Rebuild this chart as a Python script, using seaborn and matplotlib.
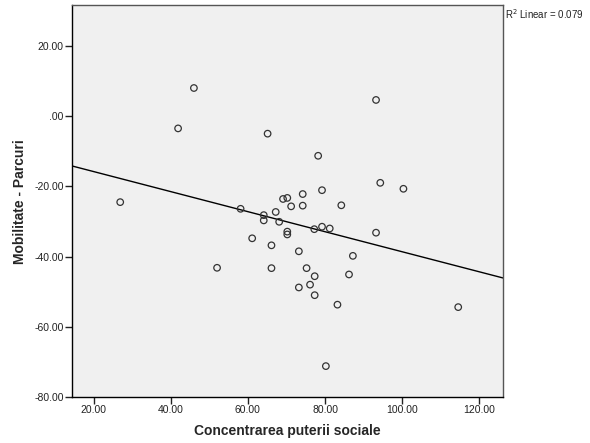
import matplotlib
matplotlib.use("Agg")
import matplotlib.pyplot as plt
import seaborn as sns
import pandas as pd
from matplotlib.ticker import FuncFormatter

concentrarea = [46.0, 41.9, 65.1, 93.2, 78.2, 26.9, 58.1, 69.1, 70.2, 74.2,
                71.2, 74.2, 67.2, 64.1, 64.1, 68.1, 70.2, 70.2, 61.1, 66.1,
                73.2, 52.0, 66.1, 75.2, 73.2, 94.3, 100.3, 79.2, 84.2, 77.2,
                79.2, 81.2, 93.2, 87.2, 77.3, 86.2, 76.1, 77.3, 83.2, 114.5,
                80.2]
mobilitate = [8.0, -3.5, -5.0, 4.6, -11.3, -24.5, -26.4, -23.6, -23.3, -22.2,
              -25.7, -25.5, -27.3, -28.2, -29.7, -30.1, -32.9, -33.7, -34.8, -36.8,
              -38.5, -43.2, -43.3, -43.3, -48.8, -19.0, -20.7, -21.1, -25.4, -32.2,
              -31.5, -32.0, -33.2, -39.8, -45.6, -45.1, -48.0, -51.0, -53.7, -54.4,
              -71.2]
x_ticks = [20, 40, 60, 80, 100, 120]
y_ticks = [20, 0, -20, -40, -60, -80]
r2_label = "R$^2$ Linear = 0.079"

df = pd.DataFrame({"Concentrarea puterii sociale": concentrarea,
                   "Mobilitate - Parcuri": mobilitate})

sns.set_style("ticks")
plt.rcParams['font.family'] = ['Liberation Sans', 'DejaVu Sans']

fig = plt.figure(figsize=(5.9, 4.43), dpi=100)
ax = fig.add_axes([0.122, 0.1038, 0.7305, 0.8838])
ax.set_facecolor("#F0F0F0")
ax.set_xlim(14.4, 126.1)
ax.set_ylim(-80, 31.5)

sns.scatterplot(data=df, x="Concentrarea puterii sociale", y="Mobilitate - Parcuri",
                ax=ax, marker="o", s=22, facecolor="none", edgecolor="#333333",
                linewidth=0.9, zorder=3)
sns.regplot(data=df, x="Concentrarea puterii sociale", y="Mobilitate - Parcuri",
            ax=ax, scatter=False, ci=None, truncate=False,
            line_kws=dict(color="black", linewidth=1.0))
ax.set_xlim(14.4, 126.1)
ax.set_ylim(-80, 31.5)

def yfmt(v, pos):
    s = f"{v:.2f}"
    if s in ("0.00", "-0.00"):
        return ".00"
    return s

ax.set_xticks(x_ticks)
ax.set_yticks(y_ticks)
ax.xaxis.set_major_formatter(FuncFormatter(lambda v, p: f"{v:.2f}"))
ax.yaxis.set_major_formatter(FuncFormatter(yfmt))
ax.tick_params(axis="both", labelsize=7.5, length=5, width=1, color="#222222",
               direction="out", pad=1, labelcolor="#222222")

for side in ["left", "bottom"]:
    ax.spines[side].set_color("black")
    ax.spines[side].set_linewidth(1.0)
for side in ["top", "right"]:
    ax.spines[side].set_color("#555555")
    ax.spines[side].set_linewidth(1.0)

ax.set_xlabel("Concentrarea puterii sociale", fontsize=10, fontweight="bold", labelpad=6)
ax.set_ylabel("Mobilitate - Parcuri", fontsize=10, fontweight="bold", labelpad=5)

fig.text(505/590, 1 - 14/443, r2_label, fontsize=7, ha="left", va="center", color="#222222")

fig.savefig("out.png", dpi=100)
